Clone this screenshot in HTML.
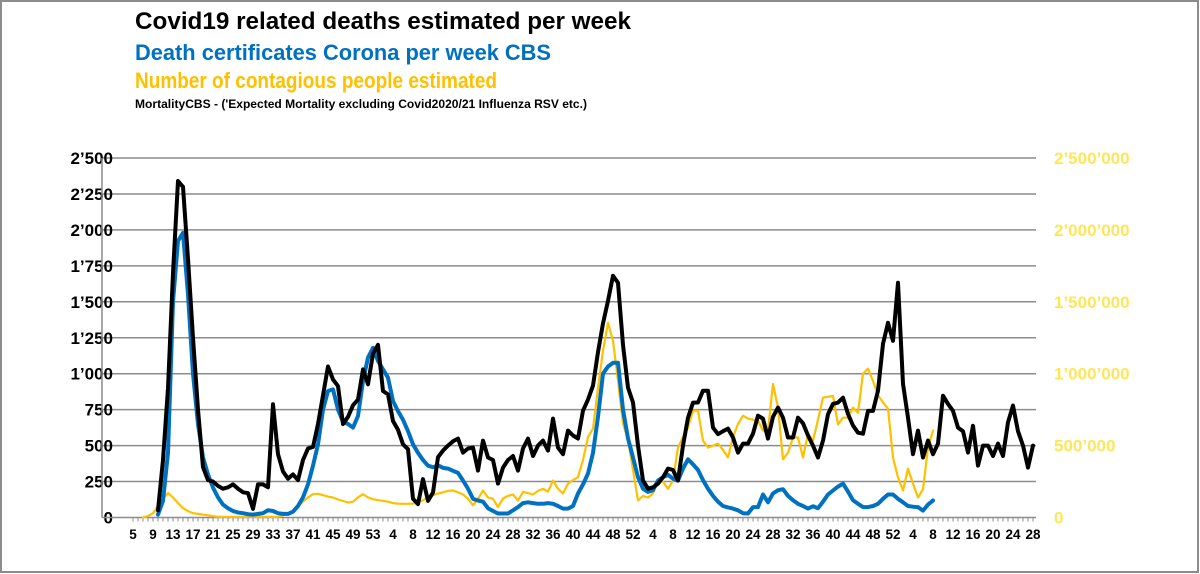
<!DOCTYPE html>
<html><head><meta charset="utf-8"><style>
html,body{margin:0;padding:0;background:#fff}
svg{display:block}
text{font-family:"Liberation Sans",sans-serif;font-weight:bold}
</style></head><body>
<svg id="chart" width="1200" height="574" viewBox="0 0 1200 574">
<rect x="1" y="1" width="1197" height="571" fill="#fff" stroke="#8c8c8c" stroke-width="2"/>
<text x="135" y="29" font-size="24" fill="#000" textLength="496" lengthAdjust="spacingAndGlyphs">Covid19 related deaths estimated per week</text>
<text x="135" y="60" font-size="22" fill="#0070C0" textLength="416" lengthAdjust="spacingAndGlyphs">Death certificates Corona per week CBS</text>
<text x="135" y="88" font-size="22" fill="#FFC000" textLength="362" lengthAdjust="spacingAndGlyphs">Number of contagious people estimated</text>
<text x="135" y="108" font-size="12" fill="#000" textLength="452" lengthAdjust="spacingAndGlyphs">MortalityCBS - ('Expected Mortality excluding Covid2020/21 Influenza RSV etc.)</text>
<g id="grid"></g>
<g id="axes"></g>
<g id="series"></g>
</svg>
<script>
const weekLabels = [];
// weeks: 2020 w5..53, 2021 w1..52, 2022 w1..52, 2023 w1..28
const weekYears = [[2020,5,53],[2021,1,52],[2022,1,52],[2023,1,28]];
const leftTicks = [0,250,500,750,1000,1250,1500,1750,2000,2250,2500];
const leftTickLabels = ["0","250","500","750","1’000","1’250","1’500","1’750","2’000","2’250","2’500"];
const rightTicks = [0,500000,1000000,1500000,2000000,2500000];
const rightTickLabels = ["0","500’000","1’000’000","1’500’000","2’000’000","2’500’000"];
const mortality = [null,null,null,null,null,50,400,900,1700,2340,2300,1800,1250,750,350,260,250,220,200,210,230,200,175,170,60,230,230,210,787,440,320,270,300,260,400,480,490,650,850,1050,960,914,650,700,780,820,1030,926,1140,1200,880,856,671,610,509,475,130,93,266,116,174,420,465,500,530,549,451,480,486,326,535,417,400,236,347,400,428,326,480,549,428,500,535,465,688,486,440,604,570,549,743,820,917,1150,1350,1507,1681,1632,1200,903,800,500,257,200,210,236,280,340,330,257,500,694,799,800,882,882,625,579,600,618,556,451,514,514,583,708,688,549,700,764,694,556,556,694,655,570,500,417,535,718,790,799,833,720,640,590,583,741,741,882,1208,1354,1229,1632,930,694,440,604,417,535,440,514,847,790,741,625,600,451,638,361,500,500,428,514,428,662,778,600,500,347,500];
const certificates = [null,null,null,null,null,20,116,450,1500,1923,1980,1550,1000,650,417,300,208,140,90,65,45,35,30,23,20,25,30,51,45,30,25,25,40,80,140,231,360,509,750,880,891,750,665,650,625,706,950,1111,1180,1088,1030,972,810,740,680,600,509,450,400,360,350,363,345,340,325,310,257,200,130,118,110,65,45,28,28,28,50,72,100,106,100,95,95,100,95,80,62,62,80,167,230,306,450,700,1000,1050,1076,1076,750,550,417,280,200,178,190,257,280,297,270,257,340,405,370,330,260,200,150,110,80,70,62,50,30,28,72,72,160,106,167,190,197,150,120,95,80,62,78,65,110,160,188,215,236,180,120,95,72,72,80,95,130,160,160,130,106,80,75,72,48,90,118];
const contagiousK = [null,null,0,10,30,80,130,170,140,100,65,45,30,25,20,15,10,5,5,5,5,5,5,5,5,5,5,5,5,5,15,25,40,80,110,140,162,165,155,145,139,125,115,104,110,140,162,140,127,120,116,110,100,97,95,95,97,104,120,140,155,167,175,185,188,175,160,132,85,130,188,139,130,72,132,150,160,118,178,170,160,185,199,180,257,200,167,236,260,280,400,560,618,900,1160,1354,1229,950,653,540,330,118,150,139,167,257,250,199,257,486,560,625,743,743,535,486,500,514,470,417,560,650,708,688,680,674,604,604,930,764,405,451,556,556,417,583,535,680,833,840,845,647,694,694,764,729,1000,1035,950,850,800,757,417,278,188,340,236,139,197,486,604];

for (const [yr,a,b] of weekYears) for (let w=a; w<=b; w++) weekLabels.push(w);

const NS="http://www.w3.org/2000/svg";
const X0=133, DX=5, Y0=517.5, Y1=158, PL=102, PR=1036;
const xs = i => X0 + DX*i;
const yL = v => Y0 - (v/2500)*(Y0-Y1);
const yR = v => Y0 - (v/2500000)*(Y0-Y1);
function mk(tag, attrs, parent){const e=document.createElementNS(NS,tag);for(const k in attrs)e.setAttribute(k,attrs[k]);parent.appendChild(e);return e;}
const grid=document.getElementById('grid'), axes=document.getElementById('axes'), series=document.getElementById('series');

leftTicks.forEach((v,k)=>{
  if(v>0){const ln=mk('line',{x1:PL,x2:PR,y1:yL(v),y2:yL(v),stroke:'#8c8c8c','stroke-width':1.5},grid);
  
  }
  const t=mk('text',{x:113,y:yL(v)+6,'font-size':17,'text-anchor':'end',fill:'#000'},axes);
  t.textContent=leftTickLabels[k];
  
  
});
rightTicks.forEach((v,k)=>{
  const t=mk('text',{x:1054,y:yR(v)+6,'font-size':17,fill:'#FFE659'},axes);
  t.textContent=rightTickLabels[k];
  
  
});
const xl=mk('line',{x1:PL,x2:PR,y1:Y0,y2:Y0,stroke:'#8c8c8c','stroke-width':1.5},axes);


const yl=mk('line',{x1:PL,x2:PL,y1:Y1,y2:Y0,stroke:'#8c8c8c','stroke-width':1.5},axes);


weekLabels.forEach((w,i)=>{
  const tk=mk('line',{x1:xs(i),x2:xs(i),y1:Y0,y2:Y0+4,stroke:'#8c8c8c','stroke-width':1},axes);
  
  
  if(i%4===0){
    const t=mk('text',{x:xs(i),y:539,'font-size':13.5,'text-anchor':'middle',fill:'#000'},axes);
    t.textContent=w;
    
    
  }
});
function path(arr, yf, color, w, name){
  let d='', pen=false;
  arr.forEach((v,i)=>{ if(v===null){pen=false;return;} d+=(pen?'L':'M')+xs(i).toFixed(1)+' '+yf(v).toFixed(1); pen=true;});
  const p=mk('path',{d:d,fill:'none',stroke:color,'stroke-width':w,'stroke-linejoin':'round','stroke-linecap':'round'},series);
  
  
}
path(contagiousK.map(v=>v===null?null:v*1000), yR, '#FFC000', 2.2, 'contagious-people-line');
path(certificates, yL, '#0070C0', 4, 'death-certificates-line');
path(mortality, yL, '#000000', 4, 'mortality-line');
</script>
</body></html>
